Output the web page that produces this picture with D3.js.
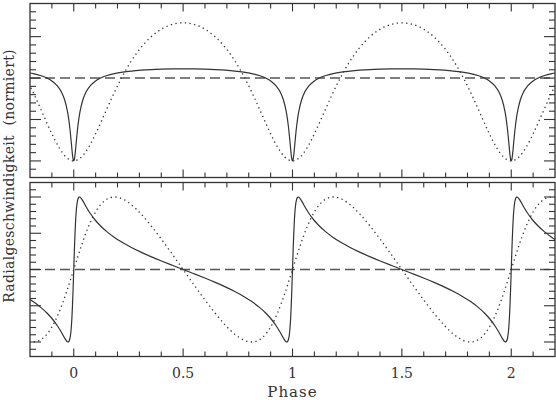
<!DOCTYPE html>
<html>
<head>
<meta charset="utf-8">
<script src="https://cdn.jsdelivr.net/npm/d3@7"></script>
<style>
  body { margin: 0; background: #fff; }
  svg { display: block; }
  text { font-family: "DejaVu Serif", serif; fill: #333; }
</style>
</head>
<body>
<div id="chart"></div>
<script>
// one orbital cycle, phase 0..1 (normalised radial velocity)
// solid curve (strongly eccentric orbit)
const solidPhase = [0.0000, 0.0028, 0.0057, 0.0087, 0.0120, 0.0156, 0.0197, 0.0242, 0.0260, 0.0293,
  0.0414, 0.0564, 0.0748, 0.0968, 0.1227, 0.1524, 0.1859, 0.2231, 0.2636, 0.3070, 0.3530, 0.4009,
  0.4501, 0.5000, 0.5499, 0.5991, 0.6470, 0.6930, 0.7364, 0.7769, 0.8141, 0.8476, 0.8773, 0.9032,
  0.9252, 0.9436, 0.9586, 0.9707, 0.9740, 0.9758, 0.9803, 0.9844, 0.9880, 0.9913, 0.9943, 0.9972, 1.0000];
const solidTop = [-1.0000, -0.9812, -0.9284, -0.8501, -0.7571, -0.6593, -0.5639, -0.4753, -0.4444, -0.3957,
  -0.2646, -0.1667, -0.0942, -0.0403, 0.0000, 0.0305, 0.0537, 0.0714, 0.0849, 0.0950, 0.1023, 0.1073,
  0.1102, 0.1111, 0.1102, 0.1073, 0.1023, 0.0950, 0.0849, 0.0714, 0.0537, 0.0305, 0.0000, -0.0403,
  -0.0942, -0.1667, -0.2646, -0.3957, -0.4444, -0.4753, -0.5639, -0.6593, -0.7571, -0.8501, -0.9284, -0.9812, -1.0000];
const solidBottom = [0.0000, 0.2576, 0.4911, 0.6833, 0.8266, 0.9222, 0.9766, 0.9985, 1.0000, 0.9961,
  0.9462, 0.8660, 0.7762, 0.6862, 0.6000, 0.5188, 0.4427, 0.3712, 0.3035, 0.2391, 0.1772, 0.1171,
  0.0583, 0.0000, -0.0583, -0.1171, -0.1772, -0.2391, -0.3035, -0.3712, -0.4427, -0.5188, -0.6000, -0.6862,
  -0.7762, -0.8660, -0.9462, -0.9961, -1.0000, -0.9985, -0.9766, -0.9222, -0.8266, -0.6833, -0.4911, -0.2576, 0.0000];

// dotted curve (mildly eccentric orbit)
const dottedPhase = [0.0000, 0.0334, 0.0674, 0.1025, 0.1391, 0.1776, 0.1868, 0.2182, 0.2609, 0.3058, 0.3525,
  0.4008, 0.4501, 0.5000, 0.5499, 0.5992, 0.6475, 0.6942, 0.7391, 0.7818, 0.8132, 0.8224, 0.8609,
  0.8975, 0.9326, 0.9666, 1.0000];
const dottedTop = [-1.0000, -0.9578, -0.8380, -0.6589, -0.4444, -0.2184, -0.1667, 0.0000, 0.1969, 0.3636, 0.4956,
  0.5905, 0.6476, 0.6667, 0.6476, 0.5905, 0.4956, 0.3636, 0.1969, 0.0000, -0.1667, -0.2184, -0.4444,
  -0.6589, -0.8380, -0.9578, -1.0000];
const dottedBottom = [0.0000, 0.3143, 0.5925, 0.8069, 0.9428, 0.9981, 1.0000, 0.9798, 0.8998, 0.7714, 0.6070,
  0.4176, 0.2125, 0.0000, -0.2125, -0.4176, -0.6070, -0.7714, -0.8998, -0.9798, -1.0000, -0.9981, -0.9428,
  -0.8069, -0.5925, -0.3143, 0.0000];

const cycles = [-1, 0, 1, 2];
const xTickLabels = ["0", "0.5", "1", "1.5", "2"];
const xLabel = "Phase";
const yLabel = "Radialgeschwindigkeit  (normiert)";

const width = 556;
const height = 400;
const left = 30, right = 555;

const svg = d3.select("#chart").append("svg")
  .attr("width", width)
  .attr("height", height);

const x = d3.scaleLinear().domain([-0.2, 2.2]).range([left, right]);

const panels = [
  {id: "top", y0: 3.5, y1: 177.5, domain: [-1.2, 0.9], solid: solidTop, dotted: dottedTop},
  {id: "bottom", y0: 182.5, y1: 356.5, domain: [-1.2, 1.2], solid: solidBottom, dotted: dottedBottom}
];

// repeat the folded cycle over the plotted phase range
function unfold(phase, values) {
  const pts = [];
  cycles.forEach((c, i) => {
    phase.forEach((p, j) => {
      if (i > 0 && j === 0) return;
      pts.push({p: p + c, v: values[j]});
    });
  });
  return pts;
}

const isMajor = v => Math.abs(v * 2 - Math.round(v * 2)) < 1e-6;

panels.forEach(panel => {
  const y = d3.scaleLinear().domain(panel.domain).range([panel.y1, panel.y0]);
  const g = svg.append("g");

  g.append("clipPath").attr("id", "clip-" + panel.id)
    .append("rect")
    .attr("x", left).attr("y", panel.y0)
    .attr("width", right - left).attr("height", panel.y1 - panel.y0);

  const plot = g.append("g").attr("clip-path", `url(#clip-${panel.id})`);

  const line = d3.line()
    .x(d => x(d.p))
    .y(d => y(d.v))
    .curve(d3.curveMonotoneX);

  // zero line
  plot.append("line")
    .attr("x1", left).attr("x2", right)
    .attr("y1", y(0)).attr("y2", y(0))
    .attr("stroke", "#555")
    .attr("stroke-width", 1.4)
    .attr("stroke-dasharray", "10,5");

  plot.append("path")
    .datum(unfold(dottedPhase, panel.dotted))
    .attr("fill", "none")
    .attr("stroke", "#333")
    .attr("stroke-width", 1.3)
    .attr("stroke-dasharray", "1.3,3.4")
    .attr("d", line);

  plot.append("path")
    .datum(unfold(solidPhase, panel.solid))
    .attr("fill", "none")
    .attr("stroke", "#333")
    .attr("stroke-width", 1.2)
    .attr("d", line);

  // ticks on all four sides, pointing inward
  const xt = d3.range(-2, 23).map(i => i / 10).filter(v => v > -0.2 && v < 2.2);
  xt.forEach(v => {
    const len = isMajor(v) ? 8 : 5;
    g.append("line").attr("x1", x(v)).attr("x2", x(v))
      .attr("y1", panel.y0).attr("y2", panel.y0 + len)
      .attr("stroke", "#333").attr("stroke-width", 1.1);
    g.append("line").attr("x1", x(v)).attr("x2", x(v))
      .attr("y1", panel.y1).attr("y2", panel.y1 - len)
      .attr("stroke", "#333").attr("stroke-width", 1.1);
  });

  const [d0, d1] = panel.domain;
  const yt = d3.range(Math.round(d0 * 10), Math.round(d1 * 10) + 1).map(i => i / 10)
    .filter(v => v > d0 + 1e-6 && v < d1 - 1e-6);
  yt.forEach(v => {
    const len = isMajor(v) ? 11 : 6;
    g.append("line").attr("x1", left).attr("x2", left + len)
      .attr("y1", y(v)).attr("y2", y(v))
      .attr("stroke", "#333").attr("stroke-width", 1.1);
    g.append("line").attr("x1", right).attr("x2", right - len)
      .attr("y1", y(v)).attr("y2", y(v))
      .attr("stroke", "#333").attr("stroke-width", 1.1);
  });

  g.append("rect")
    .attr("x", left).attr("y", panel.y0)
    .attr("width", right - left).attr("height", panel.y1 - panel.y0)
    .attr("fill", "none")
    .attr("stroke", "#333")
    .attr("stroke-width", 1.3);
});

// x tick labels under the lower panel
svg.selectAll(".xlab")
  .data(xTickLabels)
  .join("text")
  .attr("class", "xlab")
  .attr("x", d => x(+d))
  .attr("y", 378)
  .attr("text-anchor", "middle")
  .style("font-size", "14px")
  .text(d => d);

svg.append("text")
  .attr("x", (left + right) / 2)
  .attr("y", 397)
  .attr("text-anchor", "middle")
  .style("font-size", "15px")
  .style("letter-spacing", "1px")
  .text(xLabel);

svg.append("text")
  .attr("transform", "translate(13.5,176) rotate(-90)")
  .attr("text-anchor", "middle")
  .style("font-size", "14px")
  .style("letter-spacing", "0.3px")
  .style("white-space", "pre")
  .attr("xml:space", "preserve")
  .text(yLabel);
</script>
</body>
</html>
